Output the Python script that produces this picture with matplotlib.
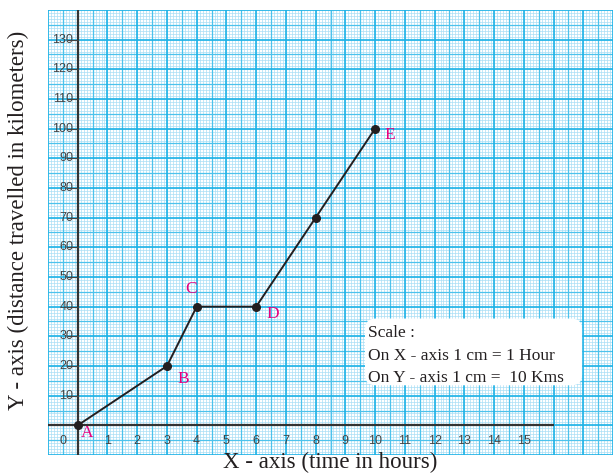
import numpy as np
import matplotlib
matplotlib.use("Agg")
import matplotlib.pyplot as plt
from matplotlib.patches import FancyBboxPatch

# distance-time data
hours = [0, 3, 4, 6, 8, 10]
km = [0, 20, 40, 40, 70, 100]
point_names = ["A", "B", "C", "D", "", "E"]
name_offsets = [(0.3, -2.7), (0.55, -4.4), (-0.2, 5.8), (0.55, -2.6), (0, 0), (0.5, -2.3)]

x_ticks = list(range(1, 16))
y_ticks = list(range(10, 140, 10))

xmin, xmax = -1, 18
ymin, ymax = -10, 140

fig = plt.figure(figsize=(6.15, 4.73), dpi=100)
ax = fig.add_axes([48 / 615, 1 - 455 / 473, 565 / 615, 445 / 473])
ax.set_xlim(xmin, xmax)
ax.set_ylim(ymin, ymax)
ax.axis("off")

# graph paper: 1 mm, 5 mm, 1 cm lines
fine_x = np.arange(xmin, xmax + 0.001, 0.1)
fine_y = np.arange(ymin, ymax + 0.01, 1)
ax.vlines(fine_x, ymin, ymax, color="#a9def6", lw=0.5, zorder=1)
ax.hlines(fine_y, xmin, xmax, color="#a9def6", lw=0.5, zorder=1)
ax.vlines(np.arange(xmin + 0.5, xmax, 1), ymin, ymax, color="#4cc2ec", lw=0.9, zorder=2)
ax.hlines(np.arange(ymin + 5, ymax, 10), xmin, xmax, color="#4cc2ec", lw=0.9, zorder=2)
ax.vlines(np.arange(xmin, xmax + 0.01, 1), ymin, ymax, color="#1db2e6", lw=1.2, zorder=3)
ax.hlines(np.arange(ymin, ymax + 0.1, 10), xmin, xmax, color="#1db2e6", lw=1.2, zorder=3)

# axes lines
ax.plot([xmin, 16], [0, 0], color="#333333", lw=1.6, zorder=4, solid_capstyle="butt")
ax.plot([0, 0], [ymin, ymax], color="#333333", lw=1.6, zorder=4, solid_capstyle="butt")

tick_font = dict(family="Liberation Sans", fontsize=9, color="#444444")
for t in x_ticks:
    ax.text(t, -5.3, str(t), ha="center", va="center", zorder=5, **tick_font)
ax.text(-0.5, -5.3, "0", ha="center", va="center", zorder=5, **tick_font)
for t in y_ticks:
    ax.plot([-0.33, 0], [t, t], color="#444444", lw=0.8, zorder=4)
    ax.text(-0.15, t, str(t), ha="right", va="center", zorder=5, **tick_font)

# the journey
ax.plot(hours, km, color="#231f20", lw=1.4, marker="o", ms=5.5, zorder=6)
for h, d, name, (dx, dy) in zip(hours, km, point_names, name_offsets):
    if name:
        ax.text(h + dx, d + dy, name, family="Liberation Serif", fontsize=12.5,
                color="#e6007e", ha="center", va="center", zorder=7)

# scale note
box = FancyBboxPatch((9.66, 13.5), 7.3, 22.5, boxstyle="round,pad=0,rounding_size=0.35",
                     mutation_aspect=10, fc="white", ec="none", zorder=8)
ax.add_patch(box)
scale_lines = ["Scale :", "On X - axis 1 cm = 1 Hour", "On Y - axis 1 cm =  10 Kms"]
for i, s in enumerate(scale_lines):
    ax.text(9.75, 31.0 - i * 7.5, s, family="Liberation Serif", fontsize=12.5,
            color="#231f20", ha="left", va="center", zorder=9)

fig.text(330 / 615, 1 - 462 / 473, "X - axis (time in hours)", family="Liberation Serif",
         fontsize=16.5, color="#231f20", ha="center", va="center")
fig.text(18 / 615, 1 - 220 / 473, "Y - axis (distance travelled in kilometers)",
         family="Liberation Serif", fontsize=16.5, color="#231f20", ha="center",
         va="center", rotation=90)

fig.savefig("out.png", dpi=100)
